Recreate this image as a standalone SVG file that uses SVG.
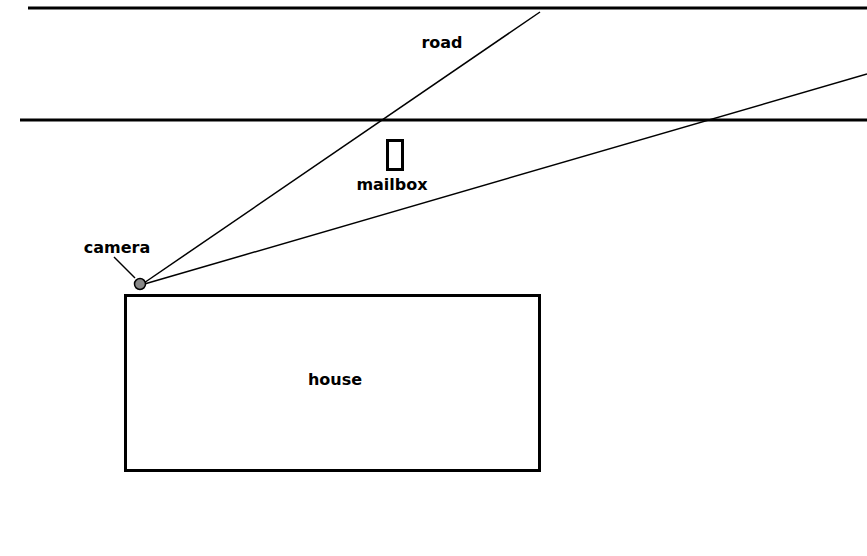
<svg xmlns="http://www.w3.org/2000/svg" width="867" height="556" viewBox="0 0 867 556">
<style>
.lbl{font-family:"DejaVu Sans",sans-serif;font-weight:bold;font-size:16px;fill:#000;text-anchor:middle}
.thick{stroke:#000;stroke-width:3;fill:none}
.thin{stroke:#000;stroke-width:1.5;fill:none}
</style>
<rect width="867" height="556" fill="#fff"/>
<g id="road">
<line class="thick" x1="28" y1="8" x2="867" y2="8"/>
<line class="thick" x1="20" y1="120" x2="867" y2="120"/>
<text class="lbl" x="442" y="48">road</text>
</g>
<g id="connectors">
<line class="thin" x1="141" y1="285" x2="540" y2="12"/>
<line class="thin" x1="141" y1="285" x2="867" y2="74"/>
<line class="thin" x1="114" y1="257" x2="135" y2="278"/>
</g>
<g id="mailbox">
<rect class="thick" x="387.5" y="140.5" width="15" height="29"/>
<text class="lbl" x="392" y="190">mailbox</text>
</g>
<g id="camera">
<circle cx="140" cy="284" r="5.5" fill="#888" stroke="#000" stroke-width="1.5"/>
<text class="lbl" x="117" y="253">camera</text>
</g>
<g id="house">
<rect class="thick" x="125.5" y="295.5" width="414" height="175"/>
<text class="lbl" x="335" y="385">house</text>
</g>
</svg>
